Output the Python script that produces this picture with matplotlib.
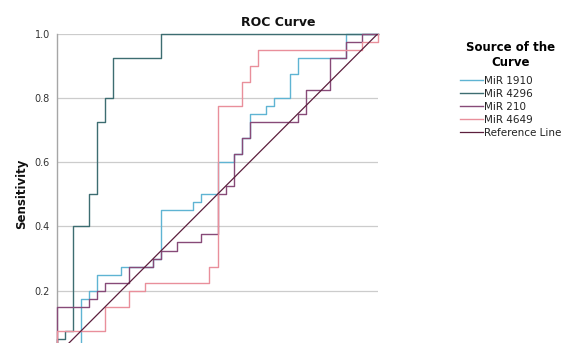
import matplotlib
matplotlib.use("Agg")
import matplotlib.pyplot as plt
import numpy as np

plt.rcParams['font.family'] = ['DejaVu Sans']

# ROC points (1 - specificity, sensitivity) per marker, drawn as post-steps
fpr_1910 = [0, 0.075, 0.1, 0.125, 0.2, 0.3, 0.325, 0.425, 0.45, 0.5, 0.55, 0.575,
            0.6, 0.65, 0.675, 0.725, 0.75, 0.9, 1.0]
tpr_1910 = [0, 0.175, 0.2, 0.25, 0.275, 0.3, 0.45, 0.475, 0.5, 0.6, 0.625, 0.675,
            0.75, 0.775, 0.8, 0.875, 0.925, 1.0, 1.0]

fpr_4296 = [0, 0, 0.025, 0.05, 0.1, 0.125, 0.15, 0.175, 0.325, 1.0]
tpr_4296 = [0, 0.05, 0.075, 0.4, 0.5, 0.725, 0.8, 0.925, 1.0, 1.0]

fpr_210 = [0, 0, 0.1, 0.125, 0.15, 0.225, 0.3, 0.325, 0.375, 0.45, 0.5, 0.525,
           0.55, 0.575, 0.6, 0.75, 0.775, 0.85, 0.9, 0.95, 1.0]
tpr_210 = [0, 0.15, 0.175, 0.2, 0.225, 0.275, 0.3, 0.325, 0.35, 0.375, 0.5, 0.525,
           0.625, 0.675, 0.725, 0.75, 0.825, 0.925, 0.975, 1.0, 1.0]

fpr_4649 = [0, 0, 0.15, 0.225, 0.275, 0.475, 0.5, 0.575, 0.6, 0.625, 0.95, 1.0]
tpr_4649 = [0, 0.075, 0.15, 0.2, 0.225, 0.275, 0.775, 0.85, 0.9, 0.95, 0.975, 1.0]

labels = ['MiR 1910', 'MiR 4296', 'MiR 210', 'MiR 4649']
colors = ['#5fb4d3', '#3d6d71', '#874a78', '#e98f9b']
ref_color = '#5c1f3d'
yticks = [0.2, 0.4, 0.6, 0.8, 1.0]

fig = plt.figure(figsize=(5.63, 3.43), dpi=100)
W, H = 563, 343
# plot area runs past the bottom edge of the figure
ax = fig.add_axes([57 / W, (H - 33.5 - 321.5) / H, 321 / W, 321.5 / H])
ax.set_xlim(0, 1)
ax.set_ylim(0, 1)

for s in ['top', 'right', 'bottom']:
    ax.spines[s].set_visible(False)
ax.spines['left'].set_color('#a6a6a6')
ax.spines['left'].set_linewidth(1.0)

ax.set_yticks(yticks)
ax.set_yticklabels([f'{v:.1f}' for v in yticks], fontsize=7, color='#333333')
ax.tick_params(axis='y', length=0, pad=5)
ax.set_xticks([])
for v in yticks:
    ax.axhline(v, color='#cccccc', lw=0.9, zorder=1)

series = [(fpr_1910, tpr_1910), (fpr_4296, tpr_4296), (fpr_210, tpr_210), (fpr_4649, tpr_4649)]
handles = []
for (x, y), lab, c in zip(series, labels, colors):
    ln, = ax.plot(x, y, drawstyle='steps-post', color=c, lw=1.0, label=lab, zorder=3,
                  clip_on=False)
    handles.append(ln)
ref, = ax.plot([0, 1], [0, 1], color=ref_color, lw=0.9, label='Reference Line', zorder=4)
handles.append(ref)

ax.set_ylabel('Sensitivity', fontsize=8.5, fontweight='bold', color='#111111')
ax.yaxis.set_label_coords(-0.09, 0.5)

fig.text(278 / W, 1 - 22 / H, 'ROC Curve', ha='center', va='center',
         fontsize=9, fontweight='bold', color='#111111')

leg = fig.legend(handles=handles, loc='upper left', bbox_to_anchor=(460 / W, 1 - 41 / H),
                 frameon=False, fontsize=7.5, handlelength=2.2, handletextpad=0.15,
                 labelspacing=0.28, borderpad=0, borderaxespad=0,
                 title='Source of the\nCurve', alignment='center',
                 title_fontproperties={'size': 8.5, 'weight': 'bold'})
leg.get_title().set_multialignment('center')
leg._legend_box.sep = 5
for t in leg.get_texts():
    t.set_color('#222222')

fig.savefig('out.png', dpi=100)
